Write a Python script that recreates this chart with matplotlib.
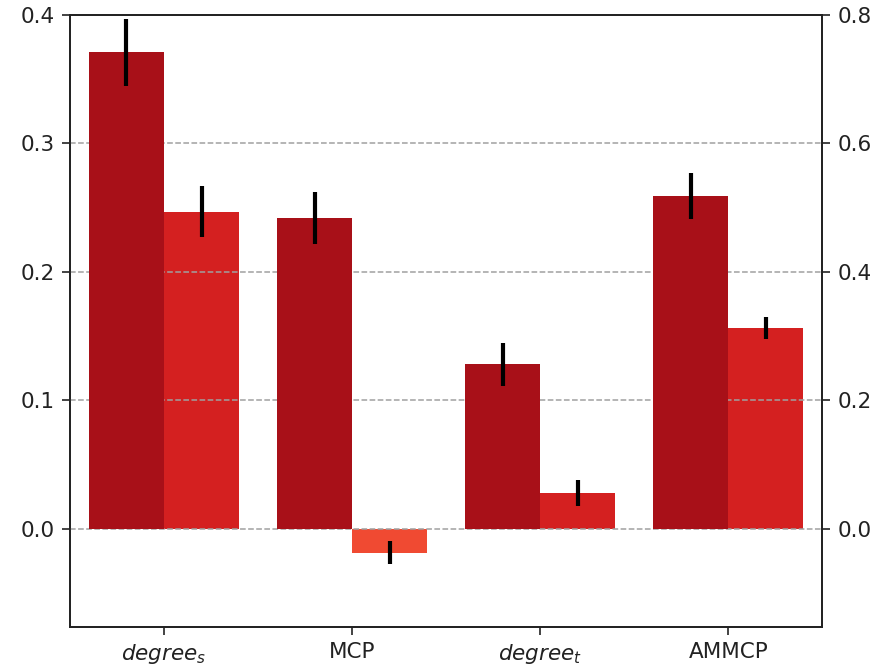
import numpy as np
import matplotlib
matplotlib.use("Agg")
import matplotlib.pyplot as plt

# ── Data ───────────────────────────────────────────────────────────────────────
categories = [r"$degree_s$", "MCP", r"$degree_t$", "AMMCP"]

left_vals = [0.371, 0.242, 0.128, 0.259]
left_err = [0.026, 0.020, 0.017, 0.018]

right_vals = [0.494, -0.037, 0.056, 0.313]
right_err = [0.040, 0.018, 0.020, 0.017]

left_colors = ["#a81018", "#a81018", "#a81018", "#a81018"]
right_colors = ["#d42020", "#f04a32", "#d42020", "#d42020"]

plt.rcParams["font.size"] = 15.5

fig = plt.figure(figsize=(8.87, 6.67), dpi=100)
ax = fig.add_axes([0.079, 0.06, 0.848, 0.9175])
ax2 = ax.twinx()

x = np.arange(len(categories))
w = 0.4

ax.bar(x - w / 2, left_vals, width=w, color=left_colors,
       yerr=left_err, error_kw=dict(ecolor="black", elinewidth=3, capsize=0), zorder=2)
ax2.bar(x + w / 2, right_vals, width=w, color=right_colors,
        yerr=right_err, error_kw=dict(ecolor="black", elinewidth=3, capsize=0), zorder=2)

ax.set_xlim(-0.5, 3.5)
ax.set_ylim(-0.0764, 0.4)
ax2.set_ylim(-0.1528, 0.8)
ax.set_yticks([0.0, 0.1, 0.2, 0.3, 0.4])
ax2.set_yticks([0.0, 0.2, 0.4, 0.6, 0.8])
ax.set_xticks(x)
ax.set_xticklabels(categories)

# dashed grid behind the bars
for yv in [0.0, 0.1, 0.2, 0.3]:
    ax.axhline(yv, color="#a0a0a0", linestyle="--", linewidth=1.1, zorder=0)

ax.set_zorder(ax2.get_zorder() + 1)
ax.patch.set_visible(False)

for a in (ax, ax2):
    a.tick_params(length=6, width=1.2, pad=5, colors="#222222")
    for s in a.spines.values():
        s.set_linewidth(1.3)
        s.set_color("#222222")

fig.savefig("out.png", dpi=100)
